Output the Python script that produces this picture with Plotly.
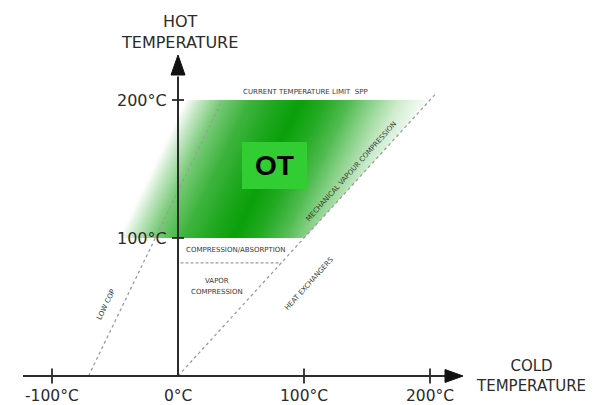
import numpy as np
import plotly.graph_objects as go

# ---------------- data ----------------
X_TICKS = [-100, 0, 100, 200]
X_TICK_LABELS = ["-100°C", "0°C", "100°C", "200°C"]
Y_TICKS = [100, 200]
Y_TICK_LABELS = ["100°C", "200°C"]

# operating region (OT): hot temperature band, left edge offset and slant
OT_HOT = [100, 200]
OT_LEFT_U = -100          # cold - K*hot at the left (faded) edge
OT_SLANT = 0.53           # d(cold)/d(hot) of the slanted edges
# right edge of the region: hot = cold (heat exchanger / MVC line)

LOW_COP_COLD = [-71, 35]
LOW_COP_HOT = [0, 200]
DIAG_COLD = [0, 204]
DIAG_HOT = [0, 204]
VAPOR_LIMIT_HOT = 82

OT_BOX_COLD = [50.8, 102.4]
OT_BOX_HOT = [135.5, 169.6]

# gradient intensity profile across the region (style)
PROFILE_U = [-100, -88, -72, -50, -25, -8, 10, 30, 50, 70, 95]
PROFILE_I = [0.0, 0.25, 0.55, 0.78, 0.93, 1.0, 0.9, 0.72, 0.45, 0.2, 0.0]

# ---------------- geometry (pixel mapping, page pixels) ----------------
PAGE_W, PAGE_H = 595, 405
OFF = 8                                   # default page body margin
W, H = PAGE_W - OFF, PAGE_H - OFF
X0_PX, Y0_PX = 178, 376
SX, SY = 1.26, 1.38


def dxp(px):
    return px / SX


def dyp(px):
    return px / SY


def cx(px):
    return (px - X0_PX) / SX


def hy(px):
    return (Y0_PX - px) / SY


XR = [cx(OFF), cx(PAGE_W)]
YR = [hy(PAGE_H), hy(OFF)]

AX = "#2b2b2b"
DOT = "#9c9c9c"
SMALL = "#383838"

fig = go.Figure()

# ---------------- gradient region ----------------
def clip_right(poly):
    out = []
    n = len(poly)
    for i in range(n):
        P = poly[i]
        Q = poly[(i + 1) % n]
        fp = P[1] - P[0]
        fq = Q[1] - Q[0]
        if fp >= 0:
            out.append(P)
        if (fp >= 0) != (fq >= 0):
            t = fp / (fp - fq)
            out.append((P[0] + t * (Q[0] - P[0]), P[1] + t * (Q[1] - P[1])))
    return out


GREEN = np.array([10, 160, 10])
WHITE = np.array([255, 255, 255])
h0, h1 = OT_HOT
step = 2.0
u_max = h1 - OT_SLANT * h1
u_vals = np.arange(OT_LEFT_U, u_max, step)
for u0 in u_vals:
    u1 = u0 + step + 1.2
    um = u0 + step / 2
    inten = float(np.interp(um, PROFILE_U, PROFILE_I))
    col = WHITE * (1 - inten) + GREEN * inten
    quad = [(u0 + OT_SLANT * h0, h0), (u1 + OT_SLANT * h0, h0),
            (u1 + OT_SLANT * h1, h1), (u0 + OT_SLANT * h1, h1)]
    poly = clip_right(quad)
    if len(poly) < 3:
        continue
    xs = [p[0] for p in poly] + [poly[0][0]]
    ys = [p[1] for p in poly] + [poly[0][1]]
    fig.add_trace(go.Scatter(
        x=xs, y=ys, mode="lines", fill="toself",
        fillcolor="rgb(%d,%d,%d)" % tuple(int(round(c)) for c in col),
        line=dict(width=0), hoverinfo="skip", showlegend=False))

# ---------------- dotted guide lines ----------------
fig.add_trace(go.Scatter(x=LOW_COP_COLD, y=LOW_COP_HOT, mode="lines",
                         line=dict(color=DOT, width=1.3, dash="dot"),
                         hoverinfo="skip", showlegend=False))
fig.add_trace(go.Scatter(x=DIAG_COLD, y=DIAG_HOT, mode="lines",
                         line=dict(color=DOT, width=1.3, dash="dot"),
                         hoverinfo="skip", showlegend=False))
fig.add_trace(go.Scatter(x=[2, VAPOR_LIMIT_HOT], y=[VAPOR_LIMIT_HOT, VAPOR_LIMIT_HOT],
                         mode="lines", line=dict(color=DOT, width=1.2, dash="3px,2px"),
                         hoverinfo="skip", showlegend=False))

# ---------------- axes ----------------
x_start = cx(23)
x_base, x_tip = cx(445), cx(463)
y_base, y_tip = hy(75), hy(55)

fig.add_trace(go.Scatter(x=[x_start, x_base + 1], y=[0, 0], mode="lines",
                         line=dict(color=AX, width=2), hoverinfo="skip", showlegend=False))
fig.add_trace(go.Scatter(x=[0, 0], y=[0, y_base - 1], mode="lines",
                         line=dict(color=AX, width=2), hoverinfo="skip", showlegend=False))
# arrowheads
fig.add_trace(go.Scatter(x=[x_base, x_tip, x_base, x_base],
                         y=[dyp(6.5), 0, -dyp(6.5), dyp(6.5)],
                         mode="lines", fill="toself", fillcolor="#111",
                         line=dict(color="#111", width=1), hoverinfo="skip", showlegend=False))
fig.add_trace(go.Scatter(x=[-dxp(7), 0, dxp(7), -dxp(7)],
                         y=[y_base, y_tip, y_base, y_base],
                         mode="lines", fill="toself", fillcolor="#111",
                         line=dict(color="#111", width=1), hoverinfo="skip", showlegend=False))
# ticks
for t in X_TICKS:
    if t == 0:
        continue
    fig.add_trace(go.Scatter(x=[t, t], y=[-dyp(7.5), dyp(7.5)], mode="lines",
                             line=dict(color=AX, width=1.8), hoverinfo="skip", showlegend=False))
for t in Y_TICKS:
    fig.add_trace(go.Scatter(x=[-dxp(6), dxp(6)], y=[t, t], mode="lines",
                             line=dict(color=AX, width=1.8), hoverinfo="skip", showlegend=False))

# ---------------- OT box ----------------
fig.add_shape(type="rect", x0=OT_BOX_COLD[0], x1=OT_BOX_COLD[1],
              y0=OT_BOX_HOT[0], y1=OT_BOX_HOT[1],
              fillcolor="rgb(50,205,50)", line=dict(width=0), layer="above")

ann = []
FONT = "DejaVu Sans"
for t, lab in zip(X_TICKS, X_TICK_LABELS):
    ann.append(dict(x=t, y=hy(395.5), text=lab, showarrow=False,
                    xanchor="center", yanchor="middle",
                    font=dict(family=FONT, size=15.5, color=AX)))
for t, lab in zip(Y_TICKS, Y_TICK_LABELS):
    ann.append(dict(x=cx(169), y=t, text=lab, showarrow=False,
                    xanchor="right", yanchor="middle",
                    font=dict(family=FONT, size=16, color=AX)))
ann.append(dict(x=cx(179), y=hy(31.5), text="HOT<br>TEMPERATURE", showarrow=False,
                xanchor="center", yanchor="middle",
                font=dict(family=FONT, size=16, color=AX)))
ann.append(dict(x=cx(531), y=hy(376), text="COLD<br>TEMPERATURE", showarrow=False,
                xanchor="center", yanchor="middle",
                font=dict(family=FONT, size=15, color=AX)))

ann.append(dict(x=(OT_BOX_COLD[0] + OT_BOX_COLD[1]) / 2,
                y=(OT_BOX_HOT[0] + OT_BOX_HOT[1]) / 2,
                text="<b>OT</b>", showarrow=False, xanchor="center", yanchor="middle",
                font=dict(family="Liberation Sans", size=28, color="#000")))

small = dict(family=FONT, size=7, color=SMALL)
ann.append(dict(x=cx(305), y=hy(92), text="CURRENT TEMPERATURE LIMIT  SPP",
                showarrow=False, font=small))
ann.append(dict(x=cx(235.5), y=hy(250), text="COMPRESSION/ABSORPTION",
                showarrow=False, font=small))
ann.append(dict(x=cx(217), y=hy(280.5), text="VAPOR", showarrow=False, font=small))
ann.append(dict(x=cx(217), y=hy(292), text="COMPRESSION", showarrow=False, font=small))
ann.append(dict(x=cx(106), y=hy(305), text="LOW COP", showarrow=False,
                textangle=-64, font=small))
ann.append(dict(x=cx(309), y=hy(284), text="HEAT EXCHANGERS", showarrow=False,
                textangle=-48, font=small))
ann.append(dict(x=cx(351), y=hy(172), text="MECHANICAL VAPOUR COMPRESSION",
                showarrow=False, textangle=-48, font=small))

fig.update_layout(
    width=W, height=H, margin=dict(l=0, r=0, t=0, b=0),
    paper_bgcolor="white", plot_bgcolor="white", showlegend=False,
    xaxis=dict(range=XR, visible=False, fixedrange=True),
    yaxis=dict(range=YR, visible=False, fixedrange=True),
    annotations=ann,
)

fig.write_html("out.html")
